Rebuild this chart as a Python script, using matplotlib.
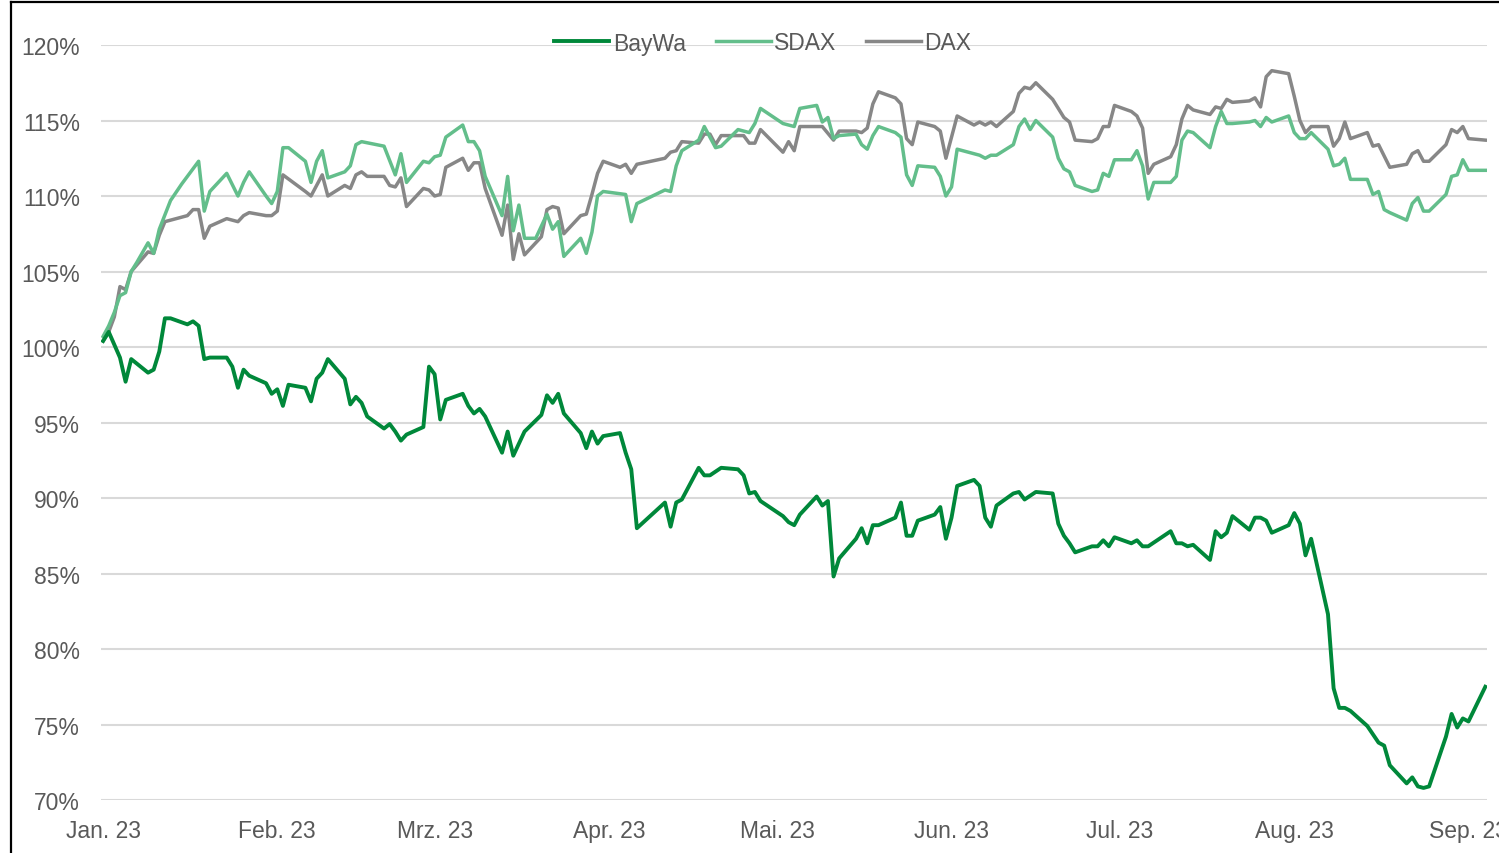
import matplotlib
matplotlib.use("Agg")
import matplotlib.pyplot as plt
from matplotlib.lines import Line2D
import numpy as np
import pandas as pd

plt.rcParams['font.family'] = ['Liberation Sans', 'DejaVu Sans']

start = pd.Timestamp('2023-01-01')

# days since 1 Jan 2023, values in % (start = 100%)
baywa_days = [0, 1, 3, 4, 5, 8, 9, 10, 11, 12, 15, 16, 17, 18, 19, 22, 23, 24, 25, 26,
              29, 30, 31, 32, 33, 36, 37, 38, 39, 40, 43, 44, 45, 46, 47, 50, 51, 52, 53, 54,
              57, 58, 59, 60, 61, 64, 65, 66, 67, 68, 71, 72, 73, 74, 75, 78, 79, 80, 81, 82,
              85, 86, 87, 88, 89, 92, 93, 94, 95, 100, 101, 102, 103, 106, 107, 108, 110, 113, 114, 115,
              116, 117, 121, 122, 123, 124, 127, 128, 129, 130, 131, 134, 135, 136, 137, 138, 141, 142, 143, 144,
              145, 148, 149, 150, 151, 152, 155, 156, 157, 158, 159, 162, 163, 164, 166, 169, 170, 171, 172, 173,
              176, 177, 178, 179, 180, 183, 184, 185, 186, 190, 191, 192, 193, 194, 197, 198, 199, 200, 201, 204,
              205, 206, 207, 208, 211, 212, 213, 214, 215, 218, 219, 220, 221, 222, 225, 227, 228, 229, 232, 233,
              234, 235, 236, 239, 240, 241, 242, 243, 246]
baywa = [100.4, 101.0, 99.3, 97.7, 99.2, 98.3, 98.5, 99.7, 101.9, 101.9, 101.5, 101.7, 101.4, 99.2, 99.3, 99.3, 98.7, 97.3, 98.5, 98.1,
         97.6, 96.9, 97.2, 96.1, 97.5, 97.3, 96.4, 97.9, 98.3, 99.2, 97.9, 96.2, 96.7, 96.3, 95.4, 94.6, 94.9, 94.4, 93.8, 94.2,
         94.7, 98.7, 98.2, 95.2, 96.5, 96.9, 96.1, 95.6, 95.9, 95.4, 93.0, 94.4, 92.8, 93.6, 94.4, 95.5, 96.8, 96.3, 96.9, 95.6,
         94.3, 93.3, 94.4, 93.6, 94.1, 94.3, 93.0, 91.9, 88.0, 89.7, 88.1, 89.7, 89.9, 92.0, 91.5, 91.5, 92.0, 91.9, 91.5, 90.3,
         90.4, 89.8, 88.8, 88.4, 88.2, 88.9, 90.1, 89.5, 89.8, 84.8, 86.0, 87.3, 88.0, 87.0, 88.2, 88.2, 88.7, 89.7, 87.5, 87.5,
         88.5, 88.9, 89.4, 87.3, 88.7, 90.8, 91.2, 90.8, 88.7, 88.1, 89.5, 90.3, 90.4, 89.9, 90.4, 90.3, 88.3, 87.5, 87.0, 86.4,
         86.8, 86.8, 87.2, 86.8, 87.4, 87.0, 87.2, 86.8, 86.8, 87.8, 87.0, 87.0, 86.8, 86.9, 85.9, 87.8, 87.4, 87.7, 88.8, 87.9,
         88.7, 88.7, 88.5, 87.7, 88.2, 89.0, 88.3, 86.2, 87.3, 82.3, 77.4, 76.1, 76.1, 75.9, 74.9, 73.8, 73.6, 72.3, 71.1, 71.5,
         70.9, 70.8, 70.9, 74.2, 75.7, 74.8, 75.4, 75.2, 77.5]

sdax_days = [0, 1, 2, 3, 4, 5, 6, 8, 9, 10, 12, 14, 17, 18, 19, 22, 24, 25, 26, 29,
             30, 31, 32, 33, 36, 37, 38, 39, 40, 43, 44, 45, 46, 50, 52, 53, 54, 57, 58, 59,
             60, 61, 64, 65, 66, 67, 68, 71, 72, 73, 74, 75, 77, 79, 80, 81, 82, 85, 86, 87,
             88, 89, 93, 94, 95, 100, 101, 102, 103, 106, 107, 109, 110, 113, 115, 116, 117, 121, 123, 124,
             127, 128, 129, 130, 131, 134, 135, 136, 137, 138, 141, 142, 143, 144, 145, 148, 149, 150, 151, 152,
             155, 156, 157, 158, 159, 162, 163, 164, 165, 166, 169, 170, 171, 172, 173, 176, 177, 178, 179, 180,
             183, 184, 185, 186, 187, 190, 191, 192, 193, 194, 197, 198, 199, 200, 201, 204, 205, 206, 207, 208,
             211, 212, 213, 214, 215, 218, 219, 220, 221, 222, 225, 226, 227, 228, 229, 232, 233, 234, 235, 236,
             239, 240, 241, 242, 243, 246]
sdax = [100.7, 101.4, 102.3, 103.4, 103.6, 105.0, 105.6, 106.9, 106.2, 107.8, 109.7, 110.8, 112.3, 109.0, 110.3, 111.5, 110.0, 110.9, 111.6, 110.0,
        109.5, 110.3, 113.2, 113.2, 112.3, 110.9, 112.3, 113.0, 111.2, 111.6, 112.0, 113.4, 113.6, 113.3, 111.4, 112.8, 110.9, 112.3, 112.2, 112.6,
        112.7, 113.9, 114.7, 113.6, 113.6, 113.0, 111.3, 108.7, 111.3, 107.7, 109.4, 107.2, 107.2, 108.8, 107.8, 108.3, 106.0, 107.2, 106.2, 107.6,
        110.0, 110.3, 110.1, 108.3, 109.5, 110.4, 110.3, 112.0, 113.0, 113.7, 114.6, 113.2, 113.3, 114.4, 114.2, 114.8, 115.8, 114.8, 114.6, 115.8,
        116.0, 114.9, 115.2, 113.8, 114.0, 114.1, 113.4, 113.1, 114.0, 114.6, 114.2, 113.9, 111.4, 110.7, 112.0, 111.9, 111.3, 110.0, 110.6, 113.1,
        112.8, 112.7, 112.5, 112.7, 112.7, 113.4, 114.6, 115.1, 114.4, 115.0, 113.9, 112.5, 111.8, 111.6, 110.7, 110.3, 110.4, 111.5, 111.3, 112.4,
        112.4, 113.0, 112.0, 109.8, 110.9, 110.9, 111.3, 113.7, 114.3, 114.2, 113.2, 114.6, 115.6, 114.8, 114.8, 114.9, 115.0, 114.6, 115.2, 114.9,
        115.3, 114.2, 113.8, 113.8, 114.2, 113.1, 112.0, 112.1, 112.5, 111.1, 111.1, 110.1, 110.3, 109.1, 108.9, 108.4, 109.5, 109.9, 109.0, 109.0,
        110.1, 111.3, 111.4, 112.4, 111.7, 111.7]

dax_days = [0, 1, 2, 3, 4, 5, 8, 9, 10, 11, 15, 16, 17, 18, 19, 22, 24, 25, 26, 29,
            30, 31, 32, 36, 37, 39, 40, 43, 44, 45, 46, 47, 50, 51, 52, 53, 54, 57, 58, 59,
            60, 61, 64, 65, 66, 67, 68, 71, 72, 73, 74, 75, 78, 79, 80, 81, 82, 85, 86, 87,
            88, 89, 92, 93, 94, 95, 100, 101, 102, 103, 106, 107, 108, 109, 110, 114, 115, 116, 117, 121,
            122, 123, 124, 128, 130, 131, 134, 135, 136, 137, 138, 141, 142, 143, 144, 145, 148, 149, 150, 152,
            155, 156, 157, 158, 159, 162, 163, 164, 165, 166, 169, 171, 172, 173, 176, 177, 178, 179, 180, 183,
            184, 185, 186, 187, 190, 191, 192, 193, 194, 197, 198, 199, 200, 201, 204, 205, 206, 207, 208, 211,
            212, 213, 214, 215, 218, 219, 220, 221, 222, 225, 226, 227, 229, 232, 233, 234, 235, 236, 239, 240,
            241, 242, 243, 246]
dax = [100.4, 101.0, 102.0, 104.0, 103.8, 105.0, 106.3, 106.2, 107.4, 108.3, 108.7, 109.1, 109.1, 107.2, 108.0, 108.5, 108.3, 108.7, 108.9, 108.7,
       108.7, 109.0, 111.4, 110.3, 110.0, 111.4, 110.0, 110.7, 110.5, 111.4, 111.6, 111.3, 111.3, 110.7, 110.6, 111.2, 109.3, 110.5, 110.4, 110.0,
       110.1, 111.9, 112.5, 111.7, 112.2, 112.2, 110.5, 107.4, 109.4, 105.8, 107.5, 106.1, 107.3, 109.1, 109.3, 109.2, 107.5, 108.7, 108.8, 110.1,
       111.5, 112.3, 111.9, 112.1, 111.5, 112.1, 112.5, 112.9, 113.0, 113.6, 113.5, 114.1, 114.1, 113.4, 114.0, 114.0, 113.5, 113.5, 114.4, 112.9,
       113.6, 113.0, 114.6, 114.6, 113.7, 114.3, 114.3, 114.2, 114.5, 116.1, 116.9, 116.5, 116.1, 113.8, 113.4, 114.9, 114.6, 114.3, 112.5, 115.3,
       114.7, 114.9, 114.7, 114.9, 114.6, 115.6, 116.8, 117.2, 117.1, 117.5, 116.4, 115.2, 114.9, 113.7, 113.6, 113.8, 114.6, 114.6, 116.0, 115.6,
       115.3, 114.5, 111.5, 112.1, 112.6, 113.4, 115.1, 116.0, 115.7, 115.4, 115.9, 115.8, 116.4, 116.2, 116.3, 116.5, 115.9, 117.9, 118.3, 118.1,
       116.6, 115.0, 114.2, 114.6, 114.6, 113.3, 113.8, 114.9, 113.8, 114.2, 113.3, 113.4, 111.9, 112.1, 112.8, 113.0, 112.3, 112.3, 113.4, 114.4,
       114.2, 114.6, 113.8, 113.7]

month_labels = ['Jan. 23', 'Feb. 23', 'Mrz. 23', 'Apr. 23', 'Mai. 23', 'Jun. 23', 'Jul. 23', 'Aug. 23', 'Sep. 23']


def to_dates(days):
    return start + pd.to_timedelta(np.array(days), unit='D')


fig = plt.figure(figsize=(14.99, 8.54), dpi=100)
ax = fig.add_axes([101 / 1499, 1 - 801 / 854, (1487 - 101) / 1499, (801 - 46) / 854])

ax.plot(to_dates(baywa_days), baywa, color='#00883A', lw=2.8, label='BayWa', zorder=4)
ax.plot(to_dates(sdax_days), sdax, color='#63BE8B', lw=2.5, label='SDAX', zorder=3)
ax.plot(to_dates(dax_days), dax, color='#878787', lw=2.5, label='DAX', zorder=2)

ax.set_ylim(70, 120)
ax.set_yticks(np.arange(70, 121, 5))
ax.set_yticklabels([f'{v}%' for v in range(70, 121, 5)])
ax.set_xlim(start - pd.Timedelta(hours=9), start + pd.Timedelta(days=246.3))
ticks = pd.date_range('2023-01-01', '2023-09-01', freq='MS')
ax.set_xticks(ticks)
ax.set_xticklabels(month_labels)

ax.grid(axis='y', color='#D9D9D9', lw=1.5)
ax.set_axisbelow(True)
for s in ax.spines.values():
    s.set_visible(False)
ax.tick_params(axis='both', length=0, labelsize=16.5, colors='#595959')
ax.tick_params(axis='y', pad=15)
ax.tick_params(axis='x', pad=14)

leg = fig.legend(loc='center', bbox_to_anchor=(763 / 1499, 1 - 44 / 854), ncol=3,
                 frameon=False, fontsize=16.5, handlelength=2.4, handletextpad=0.15,
                 columnspacing=1.3)
for t in leg.get_texts():
    t.set_color('#595959')

# figure frame (right and bottom edges fall outside the image)
fig.add_artist(Line2D([10.5 / 1499, 10.5 / 1499], [0, 1 - 3 / 854], color='black', lw=1.6,
                      transform=fig.transFigure))
fig.add_artist(Line2D([10.5 / 1499, 1], [1 - 3 / 854, 1 - 3 / 854], color='black', lw=1.6,
                      transform=fig.transFigure))

fig.savefig('out.png', dpi=100)
